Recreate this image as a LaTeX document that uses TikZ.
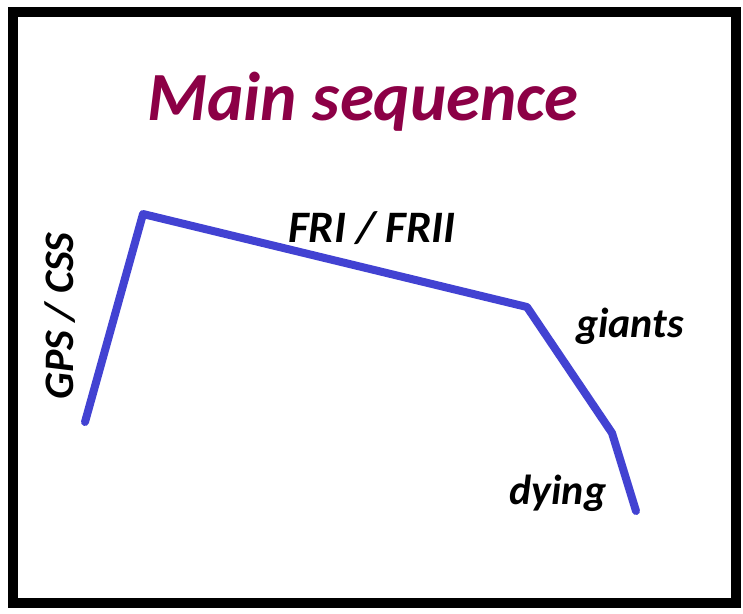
\documentclass[tikz,border=0pt]{standalone}
\usepackage{fontspec}
\setmainfont{Carlito}
\begin{document}
\begin{tikzpicture}[x=1pt, y=-1pt, % 以像素为单位, y 轴向下
                every node/.style={font=\bfseries\itshape\fontsize{42}{44}\selectfont, inner sep=0pt} % 统一设置节点字体
            ]
            \definecolor{titlecol}{RGB}{140,0,70}
            \definecolor{trackcol}{RGB}{66,66,210}
            \useasboundingbox (0,0) rectangle (743,613);

            % 外框
            \draw[line width=10pt] (12.5,12) rectangle (736,603);

            % 标题
            \node[text=titlecol, font=\bfseries\itshape\fontsize{69}{74}\selectfont] (title) at (363,102) {Main sequence};

            % 折线的各个拐点
            \coordinate (start) at (85,422);   % 左下起点
            \coordinate (peak) at (143,214);   % 最高点
            \coordinate (knee) at (527,307);   % 右侧拐点
            \coordinate (bend) at (612,433);   % 下方拐点
            \coordinate (stop) at (636,511);   % 终点

            % 绘制演化轨迹
            \draw[trackcol, line width=8pt, line join=round, line cap=round]
                (start) -- (peak) -- (knee) -- (bend) -- (stop);

            % 标注各阶段
            \node[rotate=90] (gps) at (60,316) {GPS / CSS};
            \node[font=\bfseries\itshape\fontsize{45}{48}\selectfont] (fr) at (372,228) {FRI / FRII};
            \node (giants) at (630,326) {giants};
            \node (dying) at (558,493) {dying};

        \end{tikzpicture}
\end{document}
